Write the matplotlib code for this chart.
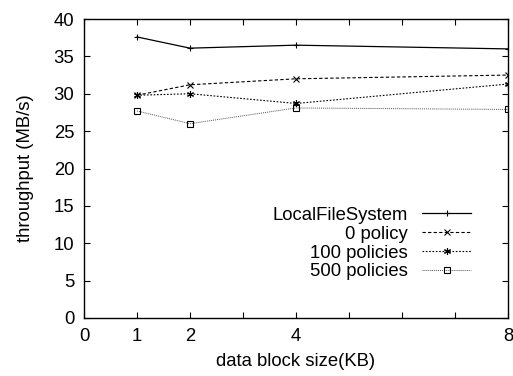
import matplotlib
matplotlib.use('Agg')
import matplotlib.pyplot as plt

plt.rcParams['font.family'] = ['Liberation Sans', 'DejaVu Sans']

# data block size (KB)
block_sizes = [1, 2, 4, 8]

# throughput (MB/s)
local_fs = [37.6, 36.1, 36.5, 36.0]
policy_0 = [29.8, 31.2, 32.0, 32.5]
policy_100 = [29.8, 30.0, 28.7, 31.3]
policy_500 = [27.7, 26.0, 28.1, 27.9]

xtick_labels = ['0', '1', '2', '', '4', '', '', '', '8']
ytick_vals = list(range(0, 41, 5))

FS = 13.3

fig = plt.figure(figsize=(5.13, 3.76), dpi=100)
ax = fig.add_axes([84 / 513, 1 - 318 / 376, (508 - 84) / 513, (318 - 19) / 376])

ax.plot(block_sizes, local_fs, color='black', lw=0.9, ls='-', marker='+',
        ms=5, mew=0.8, label='LocalFileSystem')
ax.plot(block_sizes, policy_0, color='black', lw=0.8, ls=(0, (3, 2)), marker='x',
        ms=4, mew=0.8, label='0 policy')
ax.plot(block_sizes, policy_100, color='black', lw=0.8, ls=(0, (1.5, 1.5)), marker=(6, 2, 0),
        ms=5, mew=0.8, label='100 policies')
ax.plot(block_sizes, policy_500, color='#555555', lw=0.7, ls=(0, (1, 1)), marker='s',
        ms=4, mew=0.8, mfc='none', mec='black', label='500 policies')

ax.set_xlim(0, 8)
ax.set_ylim(0, 40)
ax.set_xticks(range(0, 9))
ax.set_xticklabels(xtick_labels)
ax.set_yticks(ytick_vals)
ax.tick_params(direction='in', top=True, right=True, length=4, width=0.8,
               labelsize=FS, pad=7)
for s in ax.spines.values():
    s.set_linewidth(1.0)

ax.set_xlabel('data block size(KB)', fontsize=FS, labelpad=6)
ax.set_ylabel('throughput (MB/s)', fontsize=FS, labelpad=14)

ax.legend(loc='lower right', bbox_to_anchor=(0.935, 0.095), frameon=False,
          markerfirst=False, fontsize=FS, handlelength=2.65, labelspacing=0.1,
          handletextpad=0.8, borderpad=0)

fig.savefig('out.png', dpi=100)
